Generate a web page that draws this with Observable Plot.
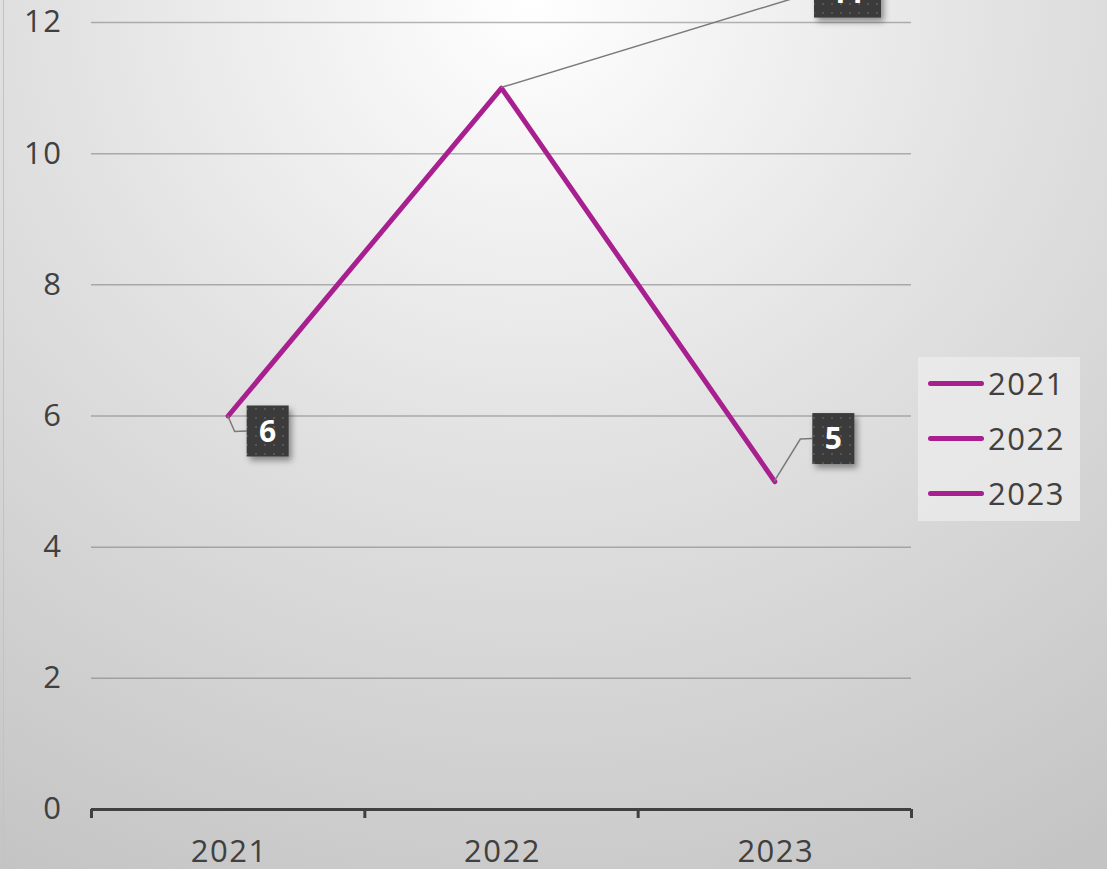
<!DOCTYPE html>
<html><head><meta charset="utf-8">
<script src="https://cdn.jsdelivr.net/npm/d3@7"></script>
<script src="https://cdn.jsdelivr.net/npm/@observablehq/plot@0.6"></script>
<style>
html,body{margin:0;padding:0;}
body{width:1107px;height:869px;overflow:hidden;position:relative;font-family:"Open Sans",sans-serif;
  background: radial-gradient(ellipse 95% 115% at 48% 0%, #ffffff 0%, #e2e2e2 45%, #c4c4c4 100%);}
#edge{position:absolute;left:3px;top:0;width:1px;height:869px;background:#c2c2c2;}
#chart{position:absolute;left:0;top:0;}
#legend{position:absolute;left:918px;top:357px;width:162px;height:164px;background:rgba(236,236,236,0.75);}
.item{position:absolute;left:10px;height:40px;display:flex;align-items:center;}
.sw{width:56px;height:5px;border-radius:3px;background:#A8208F;}
.lb{margin-left:4px;font-size:31px;font-weight:400;letter-spacing:1.5px;color:#404040;line-height:40px;}
</style>
</head><body>
<div id="edge"></div>
<div id="chart"></div>
<div id="legend"></div>
<script>
// ---- data ----
const years = [2021, 2022, 2023];
const values = [6, 11, 5];
const yTicks = [0, 2, 4, 6, 8, 10, 12];
const legendNames = ["2021", "2022", "2023"];

// ---- styling / layout config ----
const lineColor = "#A8208F";
const labelLayout = [
  {dx: 19, dy: 15.5, elbow: [7, 16]},
  {dx: 313, dy: -95.5, elbow: null},
  {dx: 38, dy: -42.5, elbow: [26, -42]}
];

const rows = years.map((y, i) => ({year: y, value: values[i]}));
const bandEdges = years.map(y => y - 0.5).concat([years[years.length - 1] + 0.5]);

function labelRender(index, scales, vals) {
  const g = d3.create("svg:g");
  const defs = g.append("defs");
  const pat = defs.append("pattern").attr("id", "dots").attr("patternUnits", "userSpaceOnUse")
    .attr("width", 9).attr("height", 9);
  pat.append("rect").attr("width", 9).attr("height", 9).attr("fill", "#3a3a3a");
  pat.append("rect").attr("x", 3).attr("y", 3).attr("width", 2).attr("height", 2).attr("fill", "#565656");
  const f = defs.append("filter").attr("id", "shadow").attr("x", "-30%").attr("y", "-30%").attr("width", "170%").attr("height", "170%");
  f.append("feDropShadow").attr("dx", 3).attr("dy", 4).attr("stdDeviation", 3).attr("flood-color", "#000").attr("flood-opacity", 0.4);
  for (const i of index) {
    const px = vals.x[i], py = vals.y[i];
    const L = labelLayout[i];
    const txt = String(rows[i].value);
    const w = 17 + 25 * txt.length, h = 51;
    const bx = px + L.dx, by = py + L.dy;
    const pts = [[px, py]];
    if (L.elbow) pts.push([px + L.elbow[0], py + L.elbow[1]]);
    pts.push([bx, by]);
    g.append("path").attr("d", d3.line()(pts)).attr("fill", "none")
      .attr("stroke", "#7a7a7a").attr("stroke-width", 1.5);
    g.append("rect").attr("x", bx).attr("y", by - h / 2).attr("width", w).attr("height", h)
      .attr("fill", "url(#dots)").attr("filter", "url(#shadow)");
    g.append("text").attr("x", bx + w / 2).attr("y", by).attr("text-anchor", "middle")
      .attr("dy", "0.36em").attr("fill", "#fff").attr("font-weight", 700)
      .attr("letter-spacing", 0)
      .attr("font-size", 30).attr("font-family", "Open Sans").text(txt);
  }
  return g.node();
}

const chart = Plot.plot({
  width: 1107, height: 869,
  marginLeft: 91, marginRight: 196, marginTop: 22, marginBottom: 60,
  x: {domain: [bandEdges[0], bandEdges[bandEdges.length - 1]]},
  y: {domain: [yTicks[0], yTicks[yTicks.length - 1]]},
  style: {background: "transparent", fontFamily: "Open Sans", fontSize: "31px", fontWeight: 400, letterSpacing: "1.5px", color: "#404040"},
  marks: [
    Plot.gridY(yTicks.filter(v => v > 0), {stroke: "#7a7a7a", strokeOpacity: 0.55, strokeWidth: 1.5}),
    Plot.axisY(yTicks, {tickSize: 0, tickPadding: 29, label: null, fill: "#404040", fontSize: 31, tickFormat: d => String(d)}),
    Plot.axisX(bandEdges, {tickSize: 9, tickFormat: () => "", stroke: "#404040", strokeWidth: 3, label: null}),
    Plot.ruleY([0], {stroke: "#404040", strokeWidth: 3}),
    Plot.axisX(years, {tickSize: 0, tickPadding: 30, tickFormat: d => String(d), label: null, fill: "#404040", fontSize: 31, dx: 1}),
    Plot.line(rows, {x: "year", y: "value", stroke: lineColor, strokeWidth: 5, strokeLinecap: "round", strokeLinejoin: "round"}),
    Plot.dot(rows, {x: "year", y: "value", render: labelRender})
  ]
});
document.getElementById("chart").appendChild(chart);

const leg = document.getElementById("legend");
const centers = [26, 81, 136];
legendNames.forEach((n, i) => {
  const it = document.createElement("div");
  it.className = "item";
  it.style.top = (centers[i] - 20) + "px";
  it.innerHTML = `<span class="sw"></span><span class="lb">${n}</span>`;
  leg.appendChild(it);
});
</script>
</body></html>
